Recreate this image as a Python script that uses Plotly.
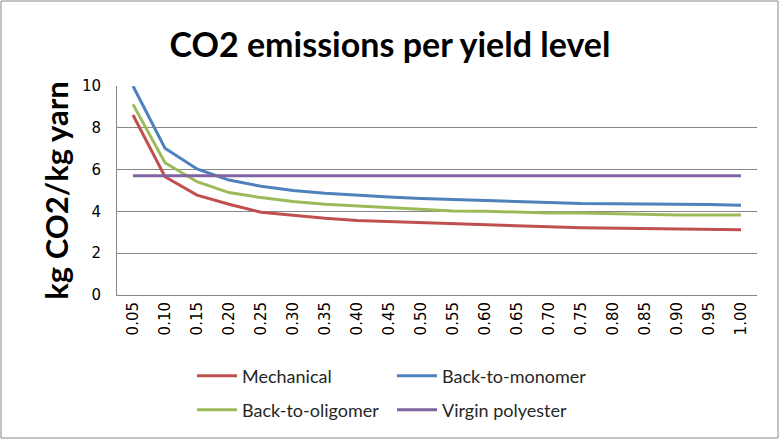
import plotly.graph_objects as go

# yield levels on the category axis
yields = ["0.05", "0.10", "0.15", "0.20", "0.25", "0.30", "0.35", "0.40", "0.45", "0.50",
          "0.55", "0.60", "0.65", "0.70", "0.75", "0.80", "0.85", "0.90", "0.95", "1.00"]

mechanical = [8.61, 5.66, 4.78, 4.34, 3.96, 3.80, 3.67, 3.56, 3.51, 3.43,
              3.38, 3.33, 3.28, 3.26, 3.22, 3.20, 3.17, 3.16, 3.13, 3.12]
monomer = [10.0, 7.02, 6.03, 5.50, 5.20, 5.00, 4.87, 4.77, 4.69, 4.62,
           4.57, 4.52, 4.47, 4.42, 4.38, 4.37, 4.34, 4.34, 4.33, 4.30]
oligomer = [9.12, 6.33, 5.42, 4.90, 4.66, 4.47, 4.34, 4.26, 4.18, 4.12,
            4.02, 4.01, 3.97, 3.92, 3.92, 3.89, 3.85, 3.83, 3.83, 3.83]
virgin = [5.7] * 20

W, H = 780, 440
L, R, T, B = 117, 23, 86, 145
pw, ph = W - L - R, H - T - B

fig = go.Figure()
fig.add_trace(go.Scatter(x=yields, y=mechanical, name="Mechanical", mode="lines",
                         line=dict(color="#C0504D", width=3), legend="legend"))
fig.add_trace(go.Scatter(x=yields, y=monomer, name="Back-to-monomer", mode="lines",
                         line=dict(color="#4F81BD", width=3), legend="legend"))
fig.add_trace(go.Scatter(x=yields, y=oligomer, name="Back-to-oligomer", mode="lines",
                         line=dict(color="#9BBB59", width=3), legend="legend2"))
fig.add_trace(go.Scatter(x=yields, y=virgin, name="Virgin polyester", mode="lines",
                         line=dict(color="#8064A2", width=3), legend="legend2"))

leg = dict(orientation="h", entrywidth=145, entrywidthmode="pixels",
           xanchor="left", yanchor="middle", x=(192 - L) / pw,
           font=dict(family="Lato, Open Sans, sans-serif", size=18, color="#262626"),
           bgcolor="rgba(0,0,0,0)", itemwidth=40)

fig.update_layout(
    width=W, height=H,
    margin=dict(l=L, r=R, t=T, b=B, autoexpand=False),
    paper_bgcolor="white", plot_bgcolor="white",
    title=dict(text="<b>CO2 emissions per yield level</b>", x=0.5, xanchor="center",
               y=1 - 45 / H, yanchor="middle",
               font=dict(family="Lato, Open Sans, sans-serif", size=34, color="black")),
    legend=dict(leg, y=(ph - (376 - T)) / ph),
    legend2=dict(leg, y=(ph - (410 - T)) / ph),
    xaxis=dict(type="category", range=[-0.5, 19.5], tickangle=-90, showgrid=False,
               showline=True, linecolor="#868686", linewidth=1, ticks="",
               tickfont=dict(family="DejaVu Sans", size=15, color="black")),
    yaxis=dict(range=[0, 10], dtick=2, showgrid=True, gridcolor="#868686", gridwidth=1,
               showline=True, linecolor="#868686", linewidth=1, zeroline=False,
               ticklabelstandoff=12,
               tickfont=dict(family="DejaVu Sans", size=15, color="black"),
               title=dict(text="<b>kg CO2/kg yarn</b>", standoff=4,
                          font=dict(family="Lato, Open Sans, sans-serif", size=31, color="black"))),
    shapes=[dict(type="rect", xref="paper", yref="paper",
                 x0=-(L - 1) / pw, x1=1 + (R - 2) / pw,
                 y0=-(B - 2) / ph, y1=1 + (T - 1) / ph,
                 line=dict(color="#868686", width=1))],
)

fig.write_html("out.html", config={"displayModeBar": False},
               post_script="document.body.style.margin='0';")
